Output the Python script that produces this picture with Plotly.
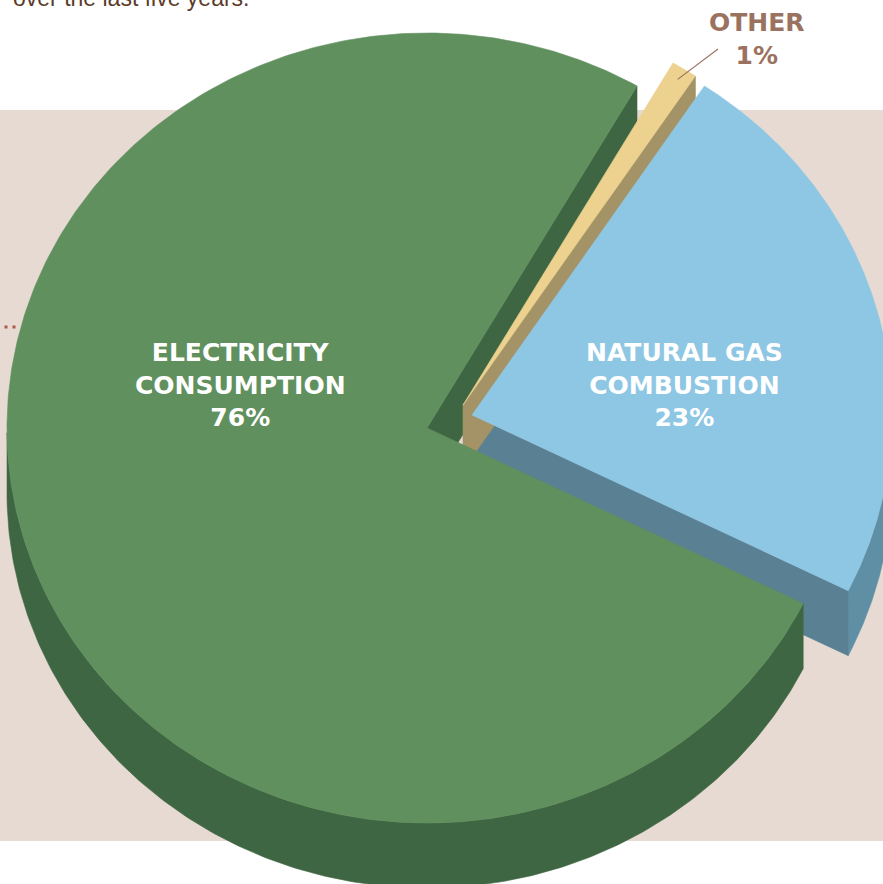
import numpy as np
import plotly.graph_objects as go

# ---------------- data ----------------
categories = ["ELECTRICITY<br>CONSUMPTION", "NATURAL GAS<br>COMBUSTION", "OTHER"]
shares = [76, 23, 1]
intro_text = "over the last five years."

# ---------------- style ----------------
W, H = 883, 884
CX, CY = 427, 428          # centre of the pie top face (px)
RX, RY = 420, 395          # ellipse radii of the top face
DEPTH = 65                 # thickness of the pie
START = 60                 # start angle (deg, counter-clockwise)
explode = [(0, 0), (45, -13), (36, -23)]
top_col = ["#60905e", "#8ec7e4", "#ecd18f"]
side_col = ["#3f6642", "#5a8094", "#a39367"]
wall_col = ["#3f6642", "#5f8fa4", "#a39367"]
face_order = [1, 0, 2]
top_order = [0, 2, 1]
label_pos = [(240, 385), (684, 385), (757, 39)]
label_col = ["white", "white", "#9b7260"]

# ---------------- geometry from data ----------------
total = float(sum(shares))
angles = []
a = START
for s in shares:
    span = 360.0 * s / total
    angles.append((a, a + span))
    a += span


def rim(i, t, dz=0.0):
    ox, oy = explode[i]
    r = np.radians(t)
    return CX + ox + RX * np.cos(r), CY + oy - RY * np.sin(r) + dz


def apex(i, dz=0.0):
    ox, oy = explode[i]
    return CX + ox, CY + oy + dz


fig = go.Figure()


def poly(xs, ys, color):
    fig.add_trace(go.Scatter(
        x=list(xs), y=list(ys), mode="lines", fill="toself",
        fillcolor=color, line=dict(color=color, width=0.6),
        hoverinfo="skip", showlegend=False))


# side faces and outer walls
for i in face_order:
    a1, a2 = angles[i]
    ts = np.linspace(a1, a2, 400)
    vis = np.sin(np.radians(ts)) <= 0
    seg, segs = [], []
    for t, v in zip(ts, vis):
        if v:
            seg.append(t)
        elif seg:
            segs.append(seg)
            seg = []
    if seg:
        segs.append(seg)
    for sg in segs:
        sg = np.array(sg)
        xt, yt = rim(i, sg)
        xb, yb = rim(i, sg[::-1], DEPTH)
        poly(np.concatenate([xt, xb, xt[:1]]), np.concatenate([yt, yb, yt[:1]]), wall_col[i])
    for t, visible in ((a1, np.cos(np.radians(a1)) > 0), (a2, np.cos(np.radians(a2)) < 0)):
        if visible:
            ax0, ay0 = apex(i)
            rx0, ry0 = rim(i, t)
            rx1, ry1 = rim(i, t, DEPTH)
            ax1, ay1 = apex(i, DEPTH)
            poly([ax0, rx0, rx1, ax1, ax0], [ay0, ry0, ry1, ay1, ay0], side_col[i])

# top faces
for i in top_order:
    a1, a2 = angles[i]
    ts = np.linspace(a1, a2, 400)
    xt, yt = rim(i, ts)
    ax0, ay0 = apex(i)
    poly(np.concatenate([[ax0], xt, [ax0]]), np.concatenate([[ay0], yt, [ay0]]), top_col[i])

# labels
for i, (cat, s) in enumerate(zip(categories, shares)):
    lx, ly = label_pos[i]
    fig.add_annotation(
        x=lx, y=ly, text=f"<b>{cat}<br>{s}%</b>", showarrow=False,
        xanchor="center", yanchor="middle", align="center",
        font=dict(family="DejaVu Sans", size=25, color=label_col[i]))

# leader line for small slice
mid = np.mean(angles[2])
ex, ey = rim(2, mid)
ax0, ay0 = apex(2)
px, py = ax0 + 0.97 * (ex - ax0), ay0 + 0.97 * (ey - ay0)
fig.add_shape(type="line", x0=718, y0=49, x1=px, y1=py,
              line=dict(color="#9b7260", width=1.2))

# intro text (cut at top of the page)
fig.add_annotation(x=11 / W, y=1 + 2 / H, xref="paper", yref="paper",
                   text=intro_text, showarrow=False,
                   xanchor="left", yanchor="middle",
                   font=dict(family="Liberation Sans", size=23, color="#5b3b2a"))

# background panel and dots
fig.add_shape(type="rect", x0=0, x1=W, y0=110, y1=841, layer="below",
              fillcolor="#e6dad2", line=dict(width=0))
fig.add_shape(type="line", x0=4.5, x1=15.5, y0=327, y1=327, layer="below",
              line=dict(color="#b0564a", width=3, dash="3px,5px"))

fig.update_layout(
    width=W, height=H, margin=dict(l=0, r=0, t=0, b=0),
    paper_bgcolor="white", plot_bgcolor="rgba(0,0,0,0)",
    xaxis=dict(range=[0, W], visible=False, fixedrange=True),
    yaxis=dict(range=[H, 0], visible=False, fixedrange=True),
    showlegend=False,
)

fig.write_html("out.html", config={"displayModeBar": False},
               post_script="document.body.style.margin='0';document.body.style.overflow='hidden';")
